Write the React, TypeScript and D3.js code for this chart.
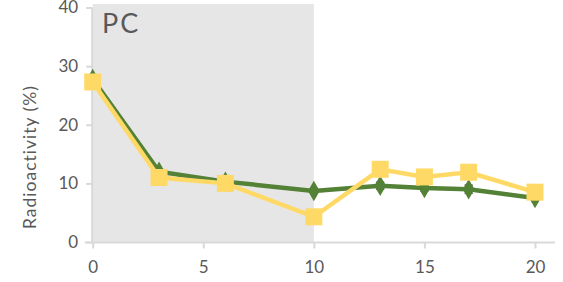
import { useEffect, useRef } from 'react';
import * as d3 from 'd3';

// Chart data
const times = [0, 3, 6, 10, 13, 15, 17, 20];
const greenValues = [27.8, 12.0, 10.3, 8.7, 9.6, 9.2, 9.0, 7.5];
const greenErrors = [0.4, 0.5, 0.4, 0.4, 0.6, 0.5, 0.7, 0.5];
const yellowValues = [27.3, 11.0, 10.0, 4.3, 12.4, 11.1, 11.9, 8.5];
const xTicks = [0, 5, 10, 15, 20];
const yTicks = [0, 10, 20, 30, 40];
const shadedRange = [0, 10];
const panelLabel = 'PC';
const yTitle = 'Radioactivity (%)';

const W = 563;
const H = 282;
const FONT = 'Lato, "Open Sans", sans-serif';

const App = () => {
  const svgRef = useRef<SVGSVGElement | null>(null);

  useEffect(() => {
    if (!svgRef.current) return;
    const svg = d3.select(svgRef.current);
    svg.selectAll('*').remove();

    const x = d3.scaleLinear().domain([0, 20]).range([92.7, 535]);
    const y = d3.scaleLinear().domain([0, 40]).range([242, 7.5]);

    // Shaded region
    svg.append('rect')
      .attr('x', x(shadedRange[0]))
      .attr('y', 4)
      .attr('width', x(shadedRange[1]) - x(shadedRange[0]))
      .attr('height', y(0) - 4)
      .attr('fill', '#e6e6e6');

    svg.append('text')
      .attr('x', 102)
      .attr('y', 33)
      .attr('font-family', FONT)
      .attr('font-size', 27)
      .attr('fill', '#595959')
      .attr('letter-spacing', 2)
      .text(panelLabel);

    // Axes
    const axisColor = '#d9d9d9';
    const yAxis = svg.append('g')
      .attr('transform', `translate(${x(0) - 0.5},0)`)
      .call(d3.axisLeft(y).tickValues(yTicks).tickSize(6).tickPadding(8));
    yAxis.select('.domain').attr('stroke', axisColor).attr('stroke-width', 2).attr('d', `M0,${y(0)}V${y(40)}`);
    yAxis.selectAll('line').attr('stroke', axisColor).attr('stroke-width', 2);
    yAxis.selectAll('text')
      .attr('fill', '#595959')
      .style('font-family', FONT)
      .style('font-size', '17px');

    const xAxis = svg.append('g')
      .attr('transform', `translate(0,${y(0) + 0.5})`)
      .call(d3.axisBottom(x).tickValues(xTicks).tickSize(6).tickPadding(12));
    xAxis.select('.domain').attr('stroke', axisColor).attr('stroke-width', 2).attr('d', `M${x(0) - 8},0H${x(20) + 20}`);
    xAxis.selectAll('line').attr('stroke', axisColor).attr('stroke-width', 2);
    xAxis.selectAll('text')
      .attr('fill', '#595959')
      .style('font-family', FONT)
      .style('font-size', '17px');

    svg.append('text')
      .attr('transform', `translate(36,157) rotate(-90)`)
      .attr('text-anchor', 'middle')
      .attr('font-family', FONT)
      .attr('font-size', 17.5)
      .attr('letter-spacing', 1)
      .attr('fill', '#595959')
      .text(yTitle);

    const green = times.map((t, i) => ({ t, v: greenValues[i], e: greenErrors[i] }));
    const yellow = times.map((t, i) => ({ t, v: yellowValues[i] }));

    const line = d3.line<{ t: number; v: number }>()
      .x(d => x(d.t))
      .y(d => y(d.v));

    // Error bars
    const eb = svg.append('g').attr('stroke', '#404040').attr('stroke-width', 1.5);
    green.forEach(d => {
      eb.append('line').attr('x1', x(d.t)).attr('x2', x(d.t)).attr('y1', y(d.v - d.e)).attr('y2', y(d.v + d.e));
      eb.append('line').attr('x1', x(d.t) - 4).attr('x2', x(d.t) + 4).attr('y1', y(d.v - d.e)).attr('y2', y(d.v - d.e));
      eb.append('line').attr('x1', x(d.t) - 4).attr('x2', x(d.t) + 4).attr('y1', y(d.v + d.e)).attr('y2', y(d.v + d.e));
    });

    svg.append('path')
      .datum(green)
      .attr('fill', 'none')
      .attr('stroke', '#538135')
      .attr('stroke-width', 4.5)
      .attr('d', line);

    svg.selectAll('.diamond')
      .data(green)
      .enter()
      .append('path')
      .attr('class', 'diamond')
      .attr('transform', d => `translate(${x(d.t)},${y(d.v)})`)
      .attr('d', d3.symbol(d3.symbolDiamond, 120)())
      .attr('fill', '#538135');

    svg.append('path')
      .datum(yellow)
      .attr('fill', 'none')
      .attr('stroke', '#ffd966')
      .attr('stroke-width', 4.5)
      .attr('d', line);

    svg.selectAll('.square')
      .data(yellow)
      .enter()
      .append('rect')
      .attr('class', 'square')
      .attr('x', d => x(d.t) - 8.5)
      .attr('y', d => y(d.v) - 8.5)
      .attr('width', 17)
      .attr('height', 17)
      .attr('fill', '#ffd966');
  }, []);

  return (
    <svg
      ref={svgRef}
      width={W}
      height={H}
      style={{ position: 'absolute', left: 0, top: 0, background: '#fff' }}
    />
  );
};

export default App;
